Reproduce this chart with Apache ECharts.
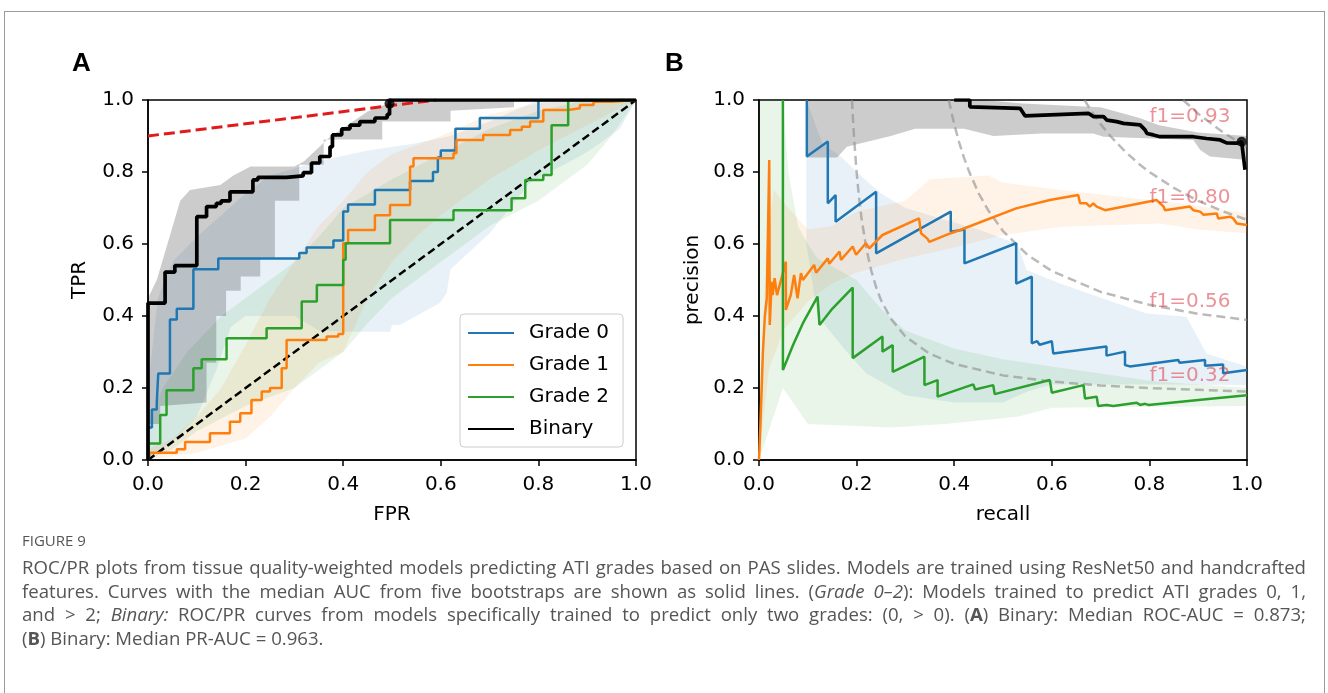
<!DOCTYPE html>
<html>
<head>
<meta charset="utf-8">
<script src="https://cdn.jsdelivr.net/npm/echarts@6/dist/echarts.min.js"></script>
<style>
  html, body { margin: 0; padding: 0; background: #fff; }
  #frame { position: absolute; left: 4px; top: 11px; width: 1321px; height: 700px; border: 1px solid #9a9a9a; border-bottom: none; box-sizing: border-box; }
  #chart { position: absolute; left: 0; top: 0; width: 1328px; height: 693px; }
  #caption { position: absolute; left: 22px; top: 531px; width: 1284px; font-family: 'Open Sans', Lato, sans-serif; color: #555; }
  #caption .fig { font-size: 15px; line-height: 19px; margin-bottom: 5px; }
  #caption .ln { font-size: 18.6px; line-height: 23.7px; text-align: justify; text-align-last: justify; }
  #caption .ln.last { text-align-last: left; }
</style>
</head>
<body>
<div id="frame"></div>
<div id="chart"></div>
<div id="caption">
  <div class="fig">FIGURE 9</div>
  <div class="ln">ROC/PR plots from tissue quality-weighted models predicting ATI grades based on PAS slides. Models are trained using ResNet50 and handcrafted</div>
  <div class="ln">features. Curves with the median AUC from five bootstraps are shown as solid lines. (<i>Grade 0–2</i>): Models trained to predict ATI grades 0, 1,</div>
  <div class="ln">and &gt; 2; <i>Binary:</i> ROC/PR curves from models specifically trained to predict only two grades: (0, &gt; 0). (<b>A</b>) Binary: Median ROC-AUC = 0.873;</div>
  <div class="ln last">(<b>B</b>) Binary: Median PR-AUC = 0.963.</div>
</div>
<script>
// tick labels shared by both panels
const tickLabels = ['0.0', '0.2', '0.4', '0.6', '0.8', '1.0']

// ---- panel A: ROC, step points [fpr where tpr jumps, new tpr]
const rocGrade0 = [[0,0],[0,0.09],[0.008,0.14],[0.018,0.16],[0.021,0.24],[0.045,0.39],[0.059,0.42],[0.093,0.53],[0.144,0.56],[0.31,0.575],[0.325,0.59],[0.38,0.61],[0.40,0.69],[0.41,0.71],[0.465,0.75],[0.537,0.775],[0.584,0.80],[0.594,0.84],[0.60,0.86],[0.63,0.92],[0.68,0.95],[0.80,1.0],[1,1]]
const rocGrade1 = [[0,0],[0.004,0.02],[0.059,0.03],[0.076,0.05],[0.127,0.074],[0.168,0.106],[0.189,0.13],[0.212,0.167],[0.233,0.19],[0.25,0.2],[0.274,0.255],[0.284,0.333],[0.366,0.343],[0.39,0.35],[0.40,0.602],[0.41,0.639],[0.465,0.68],[0.496,0.708],[0.537,0.815],[0.544,0.838],[0.626,0.852],[0.632,0.889],[0.687,0.903],[0.742,0.917],[0.766,0.926],[0.783,0.94],[0.81,0.972],[0.861,0.977],[0.885,0.986],[0.913,0.995],[0.95,1.0],[1,1]]
const rocGrade2 = [[0,0],[0,0.046],[0.025,0.125],[0.038,0.194],[0.093,0.255],[0.11,0.28],[0.161,0.338],[0.243,0.366],[0.315,0.44],[0.346,0.486],[0.40,0.556],[0.405,0.602],[0.496,0.667],[0.626,0.694],[0.745,0.727],[0.773,0.778],[0.81,0.792],[0.827,0.93],[0.861,1.0],[1,1]]
const rocBinary = [[0,0],[0,0.436],[0.035,0.522],[0.055,0.54],[0.10,0.676],[0.12,0.704],[0.14,0.713],[0.15,0.72],[0.168,0.745],[0.215,0.778],[0.225,0.785],[0.284,0.789],[0.318,0.798],[0.335,0.825],[0.352,0.843],[0.373,0.87],[0.378,0.903],[0.397,0.92],[0.414,0.93],[0.434,0.94],[0.465,0.95],[0.49,0.96],[0.495,1.0],[1,1]]
const rocBinaryPoint = [[0.495, 0.99]]
const rocChance = [[0,0],[1,1]]
const rocIsoCost = [[0,0.90],[0.59,1.0]]

// ROC bootstrap bands: upper / lower envelopes
const rocBandGrade0Up = [[0,0.2],[0.02,0.45],[0.05,0.55],[0.1,0.62],[0.15,0.68],[0.2,0.74],[0.25,0.79],[0.3,0.81],[0.35,0.83],[0.45,0.86],[0.55,0.88],[0.62,0.9],[0.7,0.94],[0.75,0.97],[0.8,1.0],[1,1]]
const rocBandGrade0Lo = [[0,0],[0.05,0.05],[0.1,0.12],[0.14,0.25],[0.17,0.37],[0.2,0.4],[0.3,0.4],[0.35,0.36],[0.4,0.356],[0.496,0.356],[0.5,0.375],[0.516,0.375],[0.598,0.436],[0.612,0.464],[0.62,0.53],[0.7,0.63],[0.783,0.77],[0.88,0.84],[0.905,0.86],[0.967,0.92],[1,1]]
const rocBandGrade1Up = [[0,0.03],[0.05,0.06],[0.1,0.12],[0.15,0.2],[0.2,0.32],[0.25,0.45],[0.3,0.55],[0.35,0.65],[0.4,0.72],[0.45,0.8],[0.5,0.85],[0.6,0.9],[0.7,0.96],[0.8,0.99],[0.9,1.0],[1,1]]
const rocBandGrade1Lo = [[0,0],[0.1,0.02],[0.2,0.06],[0.25,0.12],[0.3,0.2],[0.35,0.27],[0.4,0.3],[0.45,0.45],[0.5,0.55],[0.55,0.62],[0.6,0.68],[0.7,0.78],[0.8,0.86],[0.9,0.93],[1,1]]
const rocBandGrade2Up = [[0,0.1],[0.03,0.2],[0.08,0.3],[0.15,0.4],[0.2,0.45],[0.25,0.5],[0.3,0.55],[0.35,0.62],[0.4,0.7],[0.5,0.78],[0.6,0.85],[0.7,0.92],[0.8,0.97],[0.9,1.0],[1,1]]
const rocBandGrade2Lo = [[0,0],[0.05,0.03],[0.1,0.08],[0.2,0.15],[0.3,0.2],[0.35,0.25],[0.4,0.3],[0.45,0.38],[0.5,0.45],[0.6,0.55],[0.7,0.65],[0.8,0.72],[0.9,0.82],[0.95,0.9],[1,1]]
const rocBandBinaryUp = [[0,0.45],[0.018,0.5],[0.066,0.72],[0.086,0.75],[0.148,0.764],[0.175,0.79],[0.21,0.815],[0.3,0.815],[0.32,0.83],[0.373,0.898],[0.414,0.935],[0.45,0.968],[0.51,1.0],[1,1]]
const rocBandBinaryLo = [[0,0.1],[0.025,0.1],[0.025,0.15],[0.12,0.16],[0.12,0.27],[0.14,0.27],[0.14,0.40],[0.16,0.40],[0.16,0.47],[0.19,0.47],[0.19,0.51],[0.23,0.51],[0.23,0.56],[0.26,0.56],[0.26,0.72],[0.31,0.72],[0.31,0.82],[0.36,0.82],[0.36,0.89],[0.48,0.89],[0.48,0.94],[0.62,0.94],[0.62,0.97],[0.75,0.98],[0.75,1.0],[1,1]]

// ---- panel B: precision / recall vertices [recall, precision]
const prGrade0 = [[0.098,1],[0.098,0.843],[0.141,0.885],[0.141,0.713],[0.157,0.736],[0.157,0.662],[0.24,0.745],[0.24,0.574],[0.393,0.69],[0.393,0.634],[0.421,0.64],[0.421,0.546],[0.527,0.602],[0.527,0.49],[0.559,0.509],[0.559,0.324],[0.57,0.33],[0.575,0.32],[0.60,0.33],[0.603,0.296],[0.712,0.315],[0.712,0.29],[0.75,0.301],[0.75,0.264],[0.76,0.26],[0.859,0.278],[0.862,0.27],[0.914,0.278],[0.914,0.262],[0.951,0.265],[0.951,0.241],[1.0,0.25]]
const prGrade1 = [[0,0],[0.003,0.1],[0.008,0.3],[0.012,0.4],[0.016,0.45],[0.021,0.833],[0.022,0.375],[0.026,0.495],[0.028,0.458],[0.032,0.505],[0.037,0.458],[0.055,0.551],[0.055,0.417],[0.065,0.458],[0.072,0.514],[0.079,0.449],[0.086,0.519],[0.09,0.5],[0.113,0.542],[0.117,0.52],[0.141,0.56],[0.144,0.545],[0.165,0.579],[0.168,0.556],[0.192,0.593],[0.199,0.57],[0.219,0.602],[0.226,0.588],[0.253,0.625],[0.328,0.671],[0.332,0.63],[0.345,0.615],[0.349,0.606],[0.393,0.63],[0.412,0.639],[0.527,0.699],[0.596,0.722],[0.654,0.736],[0.658,0.713],[0.671,0.713],[0.678,0.704],[0.685,0.713],[0.692,0.704],[0.709,0.694],[0.815,0.722],[0.829,0.704],[0.832,0.694],[0.883,0.704],[0.89,0.694],[0.904,0.69],[0.911,0.681],[0.938,0.685],[0.941,0.671],[0.965,0.676],[0.972,0.671],[0.979,0.657],[1.0,0.653]]
const prGrade2 = [[0.049,1],[0.049,0.25],[0.07,0.32],[0.09,0.38],[0.12,0.454],[0.124,0.375],[0.15,0.42],[0.192,0.479],[0.192,0.283],[0.253,0.343],[0.253,0.301],[0.274,0.319],[0.274,0.245],[0.339,0.287],[0.339,0.208],[0.366,0.222],[0.366,0.176],[0.439,0.21],[0.443,0.196],[0.48,0.208],[0.483,0.183],[0.596,0.222],[0.6,0.187],[0.665,0.208],[0.668,0.171],[0.692,0.176],[0.695,0.15],[0.712,0.153],[0.726,0.15],[0.774,0.159],[0.781,0.153],[0.791,0.156],[0.798,0.153],[0.931,0.171],[0.934,0.167],[1.0,0.18]]
const prBinary = [[0.40,1],[0.432,1],[0.432,0.981],[0.535,0.977],[0.545,0.956],[0.675,0.963],[0.685,0.954],[0.706,0.954],[0.713,0.944],[0.733,0.94],[0.747,0.935],[0.75,0.931],[0.781,0.931],[0.791,0.917],[0.795,0.907],[0.808,0.903],[0.822,0.898],[0.89,0.898],[0.917,0.893],[0.945,0.889],[0.958,0.881],[0.979,0.88],[0.989,0.884],[0.992,0.88],[0.996,0.806]]
const prBinaryPoint = [[0.989, 0.884]]

const prBandGrade0Up = [[0.097,1],[0.13,0.88],[0.17,0.84],[0.2,0.8],[0.25,0.74],[0.3,0.7],[0.4,0.66],[0.45,0.64],[0.53,0.6],[0.548,0.528],[0.617,0.49],[0.712,0.445],[0.794,0.407],[0.876,0.398],[0.917,0.296],[1.0,0.259]]
const prBandGrade0Lo = [[0.097,0.6],[0.12,0.4],[0.18,0.3],[0.22,0.24],[0.3,0.18],[0.4,0.16],[0.5,0.16],[0.55,0.19],[0.6,0.21],[0.8,0.21],[1.0,0.208]]
const prBandGrade1Up = [[0,0.1],[0.015,0.6],[0.03,0.75],[0.06,0.7],[0.1,0.64],[0.15,0.65],[0.2,0.69],[0.3,0.72],[0.35,0.78],[0.47,0.79],[0.5,0.77],[0.62,0.75],[0.75,0.73],[0.88,0.71],[1.0,0.685]]
const prBandGrade1Lo = [[0,0],[0.02,0.25],[0.05,0.36],[0.1,0.44],[0.15,0.49],[0.2,0.52],[0.3,0.56],[0.4,0.59],[0.5,0.625],[0.62,0.648],[0.82,0.657],[0.9,0.64],[1.0,0.63]]
const prBandGrade2Up = [[0,1],[0.049,1],[0.06,0.8],[0.08,0.65],[0.1,0.6],[0.12,0.56],[0.2,0.5],[0.25,0.42],[0.3,0.36],[0.4,0.31],[0.5,0.28],[0.6,0.26],[0.7,0.24],[0.8,0.22],[0.9,0.21],[1.0,0.2]]
const prBandGrade2Lo = [[0,0],[0.049,0.2],[0.1,0.1],[0.27,0.09],[0.38,0.1],[0.53,0.12],[0.6,0.145],[1.0,0.15]]
const prBandBinaryUp = [[0.097,1],[0.46,1],[0.54,0.99],[0.70,0.98],[0.78,0.95],[0.82,0.93],[0.9,0.91],[1.0,0.9]]
const prBandBinaryLo = [[0.097,0.84],[0.16,0.84],[0.18,0.87],[0.27,0.9],[0.32,0.92],[0.42,0.92],[0.48,0.9],[0.58,0.907],[0.685,0.907],[0.706,0.898],[0.89,0.889],[0.904,0.861],[0.924,0.843],[1.0,0.833]]

// iso-F1 reference curves
const isoF1_032 = [[0.1905,1.0],[0.195,0.891],[0.2,0.8],[0.205,0.729],[0.21,0.672],[0.22,0.587],[0.23,0.526],[0.24,0.48],[0.25,0.444],[0.27,0.393],[0.3,0.343],[0.35,0.295],[0.4,0.267],[0.5,0.235],[0.6,0.218],[0.7,0.207],[0.8,0.2],[0.9,0.195],[1.0,0.19]]
const isoF1_056 = [[0.389,1.0],[0.39,0.993],[0.4,0.933],[0.41,0.883],[0.42,0.84],[0.43,0.803],[0.45,0.741],[0.47,0.693],[0.5,0.636],[0.55,0.57],[0.6,0.525],[0.7,0.467],[0.8,0.431],[0.9,0.406],[1.0,0.389]]
const isoF1_080 = [[0.667,1.0],[0.68,0.971],[0.7,0.933],[0.72,0.9],[0.75,0.857],[0.78,0.821],[0.8,0.8],[0.85,0.756],[0.9,0.72],[0.95,0.691],[1.0,0.667]]
const isoF1_093 = [[0.869,1.0],[0.9,0.962],[0.95,0.911],[1.0,0.869]]
const isoF1Labels = [[0.8,0.952,'f1=0.93'],[0.8,0.727,'f1=0.80'],[0.8,0.44,'f1=0.56'],[0.8,0.233,'f1=0.32']]

const C0 = '#1f77b4', C1 = '#ff7f0e', C2 = '#2ca02c'
const FONT = 'DejaVu Sans'

function band(xi, upper, lower, fill) {
  const pts = upper.concat(lower.slice().reverse())
  return {
    type: 'custom', xAxisIndex: xi, yAxisIndex: xi, silent: true, z: 1,
    data: [pts[0]],
    renderItem(params, api) {
      return { type: 'polygon', shape: { points: pts.map(p => api.coord(p)) }, style: { fill: fill } }
    }
  }
}

function curve(name, xi, data, color, width, step) {
  return {
    name, type: 'line', xAxisIndex: xi, yAxisIndex: xi, data,
    step: step ? 'end' : false, symbol: 'none', z: 3,
    lineStyle: { color, width }, itemStyle: { color }
  }
}

function dashed(xi, data, color, width, dash) {
  return {
    type: 'line', xAxisIndex: xi, yAxisIndex: xi, data, symbol: 'none', z: 2, silent: true,
    lineStyle: { color, width, type: dash }
  }
}

function axis(gi, name, gap, vertical) {
  return {
    gridIndex: gi, type: 'value', min: 0, max: 1, interval: 0.2,
    name, nameLocation: 'middle', nameGap: gap, nameMoveOverlap: false,
    nameTextStyle: { fontSize: 20, fontFamily: FONT, color: '#000' },
    axisLine: { show: true, onZero: false, lineStyle: { color: '#000', width: 1.5 } },
    axisTick: { show: true, length: 6, lineStyle: { color: '#000', width: 1.5 } },
    axisLabel: { fontSize: 20, fontFamily: FONT, color: '#000', margin: vertical ? 14 : 15,
      formatter: v => tickLabels[Math.round(v / 0.2)] },
    splitLine: { show: false }
  }
}

const gridBase = { top: 100, width: 488, height: 360, show: true, borderColor: '#000', borderWidth: 1.5,
  backgroundColor: 'transparent', containLabel: false, outerBoundsMode: 'none' }

const chart = echarts.init(document.getElementById('chart'))
chart.setOption({
  animation: false,
  title: [
    { text: 'A', left: 72, top: 51, padding: 0, textStyle: { fontSize: 26, fontWeight: 'bold', fontFamily: 'Liberation Sans', color: '#000' } },
    { text: 'B', left: 665, top: 51, padding: 0, textStyle: { fontSize: 26, fontWeight: 'bold', fontFamily: 'Liberation Sans', color: '#000' } }
  ],
  grid: [
    Object.assign({ left: 148 }, gridBase),
    Object.assign({ left: 759 }, gridBase)
  ],
  xAxis: [axis(0, 'FPR', 45, false), axis(1, 'recall', 45, false)],
  yAxis: [axis(0, 'TPR', 58, true), axis(1, 'precision', 56, true)],
  legend: {
    data: ['Grade 0', 'Grade 1', 'Grade 2', 'Binary'],
    orient: 'vertical', left: 460, top: 314,
    itemWidth: 46, itemHeight: 14, itemGap: 12,
    itemStyle: { opacity: 0 },
    backgroundColor: 'rgba(255,255,255,0.8)', borderColor: '#ccc', borderWidth: 1, borderRadius: 4,
    padding: [9, 14, 8, 7],
    textStyle: { fontSize: 20, fontFamily: FONT, color: '#000', padding: [0, 0, 0, 10] }
  },
  series: [
    // panel A
    band(0, rocBandGrade0Up, rocBandGrade0Lo, 'rgba(31,119,180,0.1)'),
    band(0, rocBandGrade1Up, rocBandGrade1Lo, 'rgba(255,127,14,0.1)'),
    band(0, rocBandGrade2Up, rocBandGrade2Lo, 'rgba(44,160,44,0.1)'),
    band(0, rocBandBinaryUp, rocBandBinaryLo, 'rgba(0,0,0,0.2)'),
    dashed(0, rocChance, '#000', 2.5, [8, 4]),
    curve('Grade 0', 0, rocGrade0, C0, 2.5, true),
    curve('Grade 1', 0, rocGrade1, C1, 2.5, true),
    curve('Grade 2', 0, rocGrade2, C2, 2.5, true),
    curve('Binary', 0, rocBinary, '#000', 3.7, true),
    dashed(0, rocIsoCost, '#e31a1c', 3, [11, 5]),
    { type: 'scatter', xAxisIndex: 0, yAxisIndex: 0, data: rocBinaryPoint, symbolSize: 10, itemStyle: { color: '#000' }, z: 5, silent: true },
    // panel B
    band(1, prBandGrade0Up, prBandGrade0Lo, 'rgba(31,119,180,0.1)'),
    band(1, prBandGrade1Up, prBandGrade1Lo, 'rgba(255,127,14,0.1)'),
    band(1, prBandGrade2Up, prBandGrade2Lo, 'rgba(44,160,44,0.1)'),
    band(1, prBandBinaryUp, prBandBinaryLo, 'rgba(0,0,0,0.2)'),
    dashed(1, isoF1_032, 'rgba(140,140,140,0.6)', 2.5, [9, 5]),
    dashed(1, isoF1_056, 'rgba(140,140,140,0.6)', 2.5, [9, 5]),
    dashed(1, isoF1_080, 'rgba(140,140,140,0.6)', 2.5, [9, 5]),
    dashed(1, isoF1_093, 'rgba(140,140,140,0.6)', 2.5, [9, 5]),
    curve('Grade 0', 1, prGrade0, C0, 2.5, false),
    curve('Grade 1', 1, prGrade1, C1, 2.5, false),
    curve('Grade 2', 1, prGrade2, C2, 2.5, false),
    curve('Binary', 1, prBinary, '#000', 3.7, false),
    { type: 'scatter', xAxisIndex: 1, yAxisIndex: 1, data: prBinaryPoint, symbolSize: 10, itemStyle: { color: '#000' }, z: 5, silent: true },
    {
      type: 'scatter', xAxisIndex: 1, yAxisIndex: 1, data: isoF1Labels, symbolSize: 0, z: 6, silent: true,
      label: { show: true, position: [0, 0], align: 'left', verticalAlign: 'middle', formatter: p => p.data[2],
        fontSize: 20, fontFamily: FONT, color: 'rgba(220,60,72,0.7)' }
    }
  ]
})
</script>
</body>
</html>
